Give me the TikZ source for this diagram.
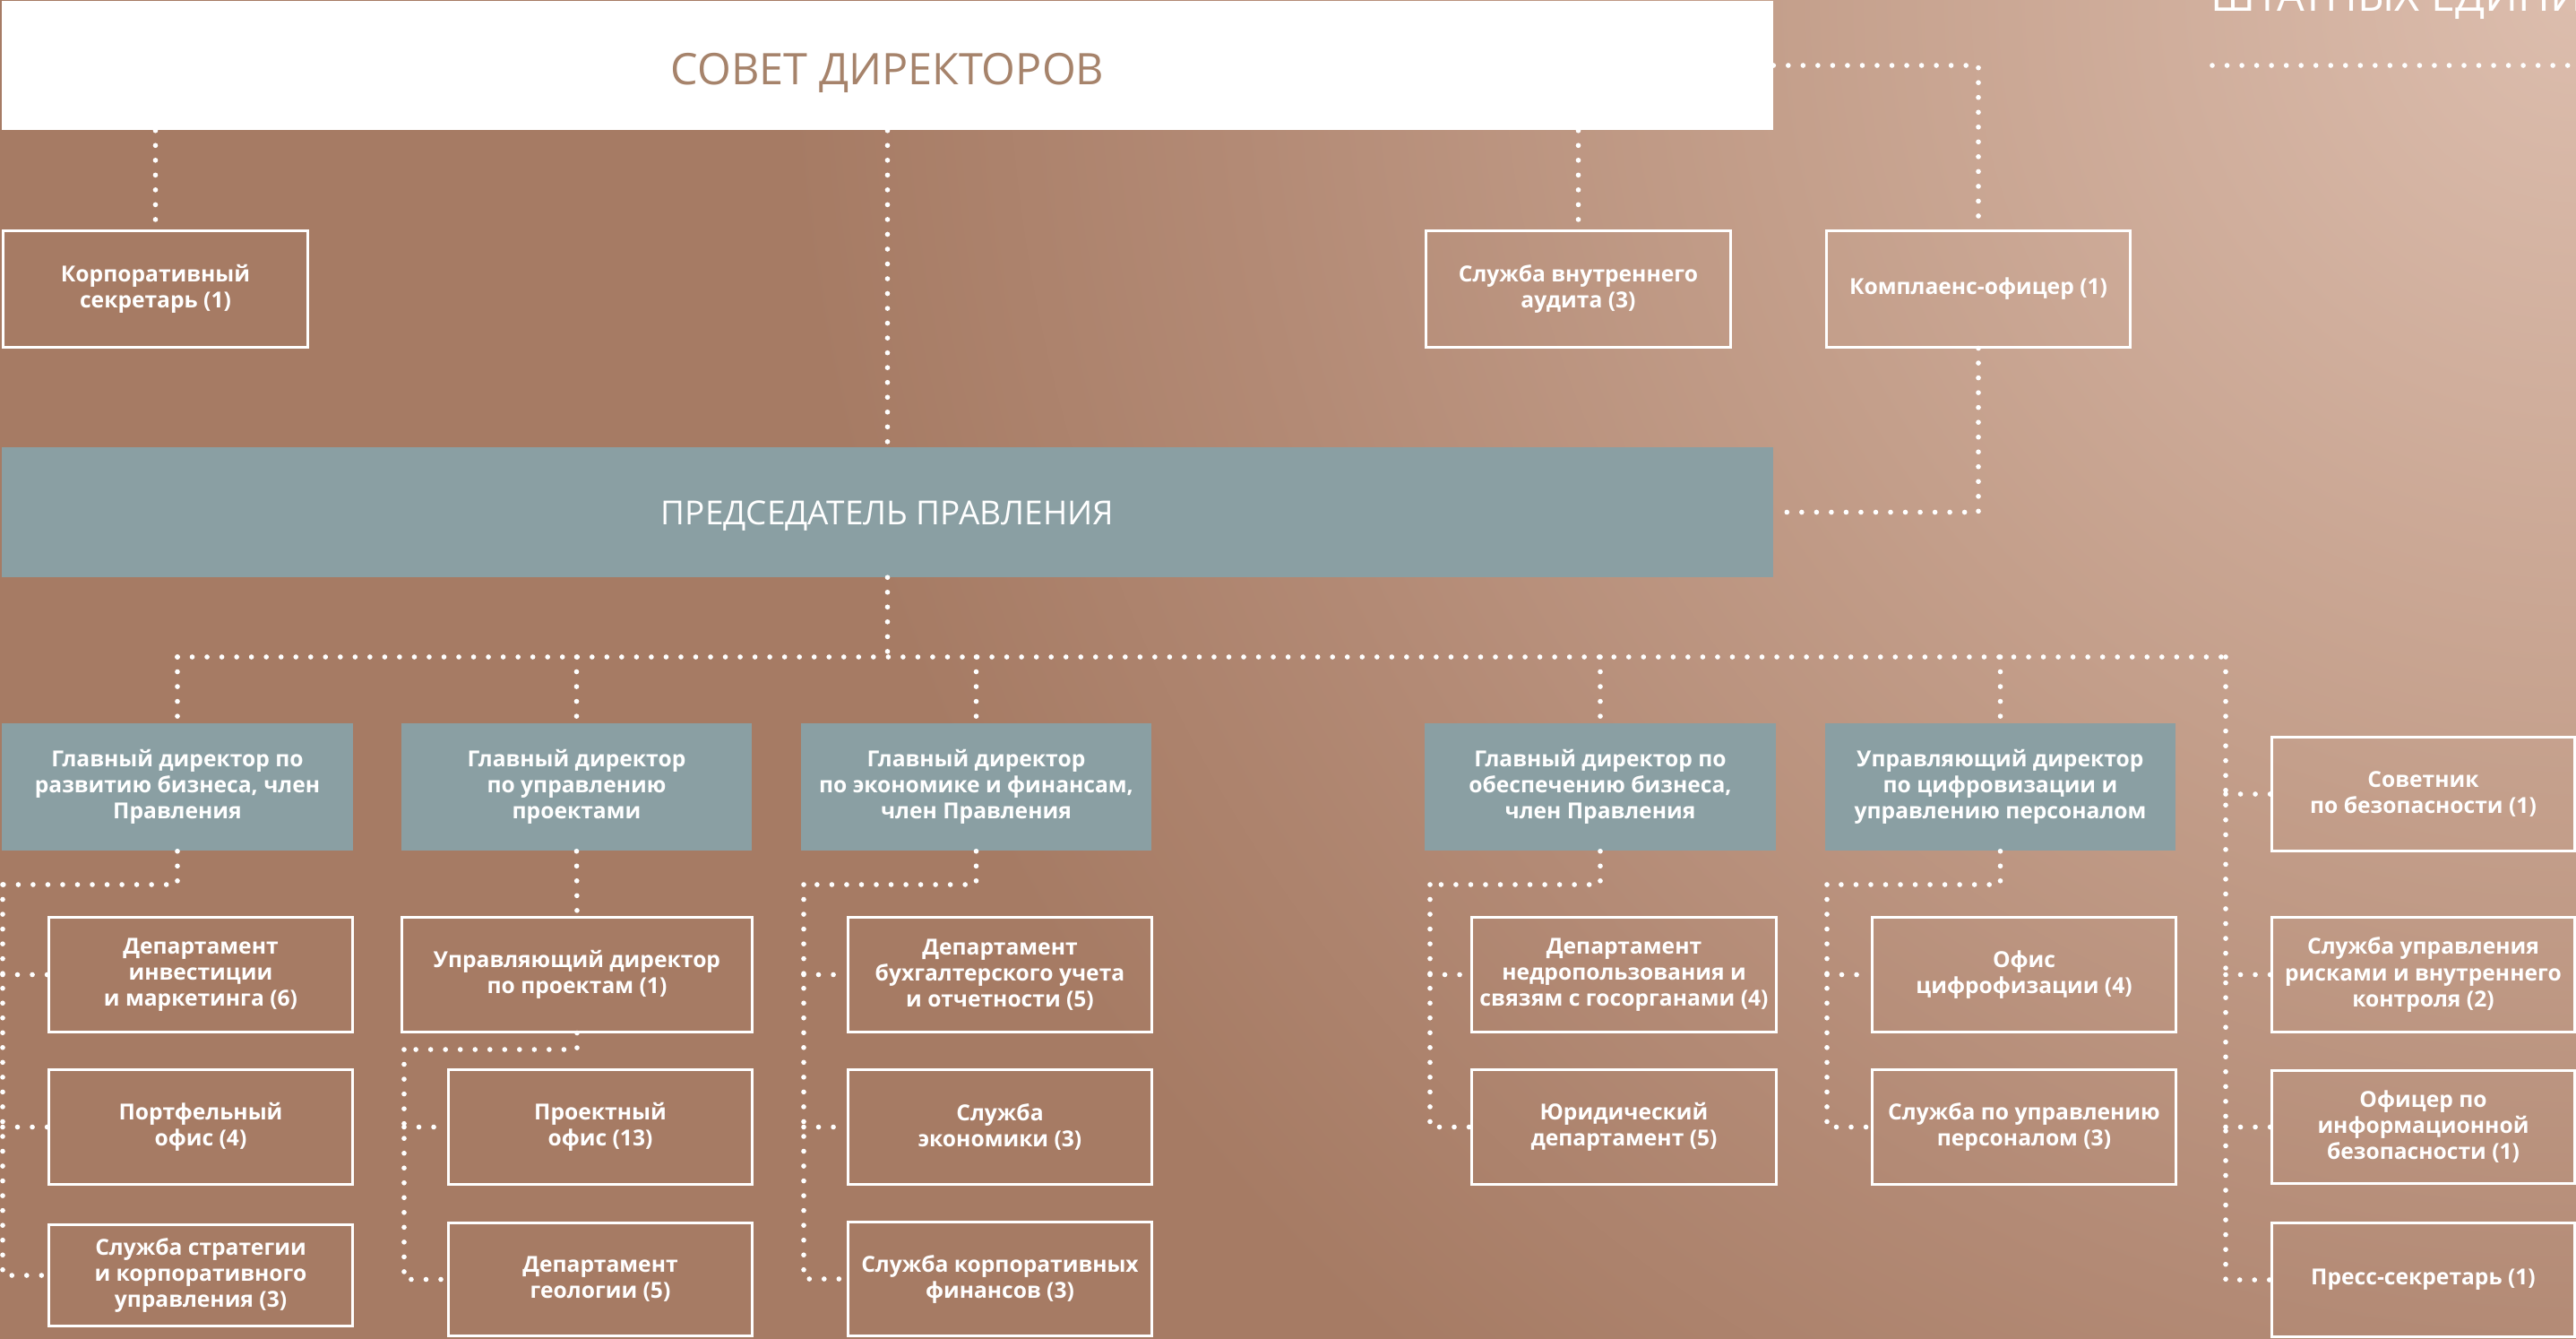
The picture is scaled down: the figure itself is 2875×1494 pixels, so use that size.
\documentclass[tikz,border=0pt]{standalone}
\usepackage{fontspec}
\setmainfont{Open Sans}
\definecolor{bgA}{HTML}{A67B64}
\definecolor{bgC}{HTML}{C49F8B}
\definecolor{bgD}{HTML}{B38A75}
\definecolor{bgB}{HTML}{DCBDAD}
\definecolor{dirc}{HTML}{8A9FA3}
\definecolor{sovtxt}{HTML}{A6836B}
\pgfdeclareradialshading{bgglow}{\pgfpoint{0bp}{0bp}}{color(0bp)=(bgB); color(11.25bp)=(bgC); color(18.75bp)=(bgD); color(25bp)=(bgA); color(50bp)=(bgA)}
\begin{document}
\begin{tikzpicture}[x=0.01cm,y=-0.01cm,
  dots/.style={draw=white, line width=1.6pt, line cap=round, dash pattern=on 0pt off 4.7pt},
  txt/.style={font=\fontsize{7}{8.25}\selectfont\bfseries, text=white, align=center, inner sep=0pt},
  sub/.style={txt, draw=white, line width=0.85pt, minimum width=3.38cm, minimum height=1.27cm},
  dir/.style={txt, fill=dirc, minimum width=3.91cm, minimum height=1.42cm},
  big/.style={inner sep=0pt, minimum width=19.75cm, minimum height=1.44cm, text depth=0pt}
]
\useasboundingbox (0,0) rectangle (2875,1494);
\clip (0,0) rectangle (2875,1494);
\fill[bgA] (0,0) rectangle (2875,1494);
\shade[shading=bgglow] (2875,0) circle (20cm);

% top level
\node[big, fill=white, text=sovtxt, text height=12.4pt, font=\fontsize{13.8}{16}\selectfont] (sovet) at (990.5,73) {СОВЕТ ДИРЕКТОРОВ};
\node[big, fill=dirc, text=white, text height=8.1pt, font=\fontsize{10.5}{13}\selectfont] (pred) at (990.5,571.5) {ПРЕДСЕДАТЕЛЬ ПРАВЛЕНИЯ};
\node[anchor=base west, inner sep=0pt, text=white, font=\fontsize{13.8}{16}\selectfont] (staff) at (2467,13) {ШТАТНЫХ ЕДИНИЦ};

\node[sub, minimum width=3.39cm, minimum height=1.29cm] (korp) at (173.5,322.5) {Корпоративный\\секретарь (1)};
\node[sub, minimum width=3.39cm, minimum height=1.29cm] (audit) at (1761.5,322.5) {Служба внутреннего\\аудита (3)};
\node[sub, minimum width=3.38cm, minimum height=1.29cm] (compl) at (2208,322.5) {Комплаенс-офицер (1)};

% directors
\node[dir] (d1) at (198,878) {Главный директор по\\развитию бизнеса, член\\Правления};
\node[dir] (d2) at (643.5,878) {Главный директор\\по управлению\\проектами};
\node[dir] (d3) at (1089.5,878) {Главный директор\\по экономике и финансам,\\член Правления};
\node[dir] (d4) at (1786,878) {Главный директор по\\обеспечению бизнеса,\\член Правления};
\node[dir] (d5) at (2232.5,878) {Управляющий директор\\по цифровизации и\\управлению персоналом};

% column 1
\node[sub] (b11) at (224,1087.5) {Департамент\\инвестиции\\и маркетинга (6)};
\node[sub] (b12) at (224,1257.5) {Портфельный\\офис (4)};
\node[sub, minimum height=1.12cm] (b13) at (224,1423) {Служба стратегии\\и корпоративного\\управления (3)};
% column 2
\node[sub, minimum width=3.90cm] (m2) at (644,1087.5) {Управляющий директор\\по проектам (1)};
\node[sub] (b22) at (670,1257.5) {Проектный\\офис (13)};
\node[sub, minimum height=1.25cm] (b23) at (670,1427.5) {Департамент\\геологии (5)};
% column 3
\node[sub] (b31) at (1116,1087.5) {Департамент\\бухгалтерского учета\\и отчетности (5)};
\node[sub] (b32) at (1116,1257.5) {Служба\\экономики (3)};
\node[sub, minimum height=1.26cm] (b33) at (1116,1427) {Служба корпоративных\\финансов (3)};
% column 4
\node[sub, minimum width=3.39cm] (b41) at (1812.5,1087.5) {Департамент\\недропользования и\\связям с госорганами (4)};
\node[sub, minimum width=3.39cm] (b42) at (1812.5,1257.5) {Юридический\\департамент (5)};
% column 5
\node[sub] (b51) at (2259,1087.5) {Офис\\цифрофизации (4)};
\node[sub] (b52) at (2259,1257.5) {Служба по управлению\\персоналом (3)};
% right column
\node[sub, minimum width=3.37cm, minimum height=1.26cm] (r1) at (2704.5,886) {Советник\\по безопасности (1)};
\node[sub, minimum width=3.37cm] (r2) at (2704.5,1087.5) {Служба управления\\рисками и внутреннего\\контроля (2)};
\node[sub, minimum width=3.37cm, minimum height=1.25cm] (r3) at (2704.5,1257.5) {Офицер по\\информационной\\безопасности (1)};
\node[sub, minimum width=3.37cm, minimum height=1.26cm] (r4) at (2704.5,1428) {Пресс-секретарь (1)};

% coordinates
\coordinate (sl) at (2469,73);
\coordinate (sr) at (2875,73);
\coordinate (busL) at (198,733);
\coordinate (busR) at (2484,733);
\coordinate (k1) at (3,987);
\coordinate (k2) at (451,1171);
\coordinate (k3) at (897,987);
\coordinate (k4) at (1596,987);
\coordinate (k5) at (2039,987);

% connectors
\draw[dots] (korp.north |- sovet.south) -- (korp.north);
\draw[dots] (sovet.south) -- (pred.north);
\draw[dots] (audit.north |- sovet.south) -- (audit.north);
\draw[dots] (sovet.east) -| (compl.north);
\draw[dots] (compl.south) |- (pred.east);
\draw[dots] (sl) -- (sr);

\draw[dots] (pred.south) -- (pred.south |- busL);
\draw[dots] (busL) -- (busR);
\foreach \d in {d1,d2,d3,d4,d5} {\draw[dots] (\d.north |- busL) -- (\d.north);}
\draw[dots] (busR) |- (r4.west);
\foreach \r in {r1,r2,r3} {\draw[dots] (\r.west -| busR) -- (\r.west);}

\draw[dots] (d1.south) |- (k1);
\draw[dots] (k1) |- (b13.west);
\draw[dots] (b11.west -| k1) -- (b11.west);
\draw[dots] (b12.west -| k1) -- (b12.west);

\draw[dots] (d2.south) -- (m2.north);
\draw[dots] (m2.south) |- (k2);
\draw[dots] (k2) |- (b23.west);
\draw[dots] (b22.west -| k2) -- (b22.west);

\draw[dots] (d3.south) |- (k3);
\draw[dots] (k3) |- (b33.west);
\draw[dots] (b31.west -| k3) -- (b31.west);
\draw[dots] (b32.west -| k3) -- (b32.west);

\draw[dots] (d4.south) |- (k4);
\draw[dots] (k4) |- (b42.west);
\draw[dots] (b41.west -| k4) -- (b41.west);

\draw[dots] (d5.south) |- (k5);
\draw[dots] (k5) |- (b52.west);
\draw[dots] (b51.west -| k5) -- (b51.west);
\end{tikzpicture}
\end{document}
